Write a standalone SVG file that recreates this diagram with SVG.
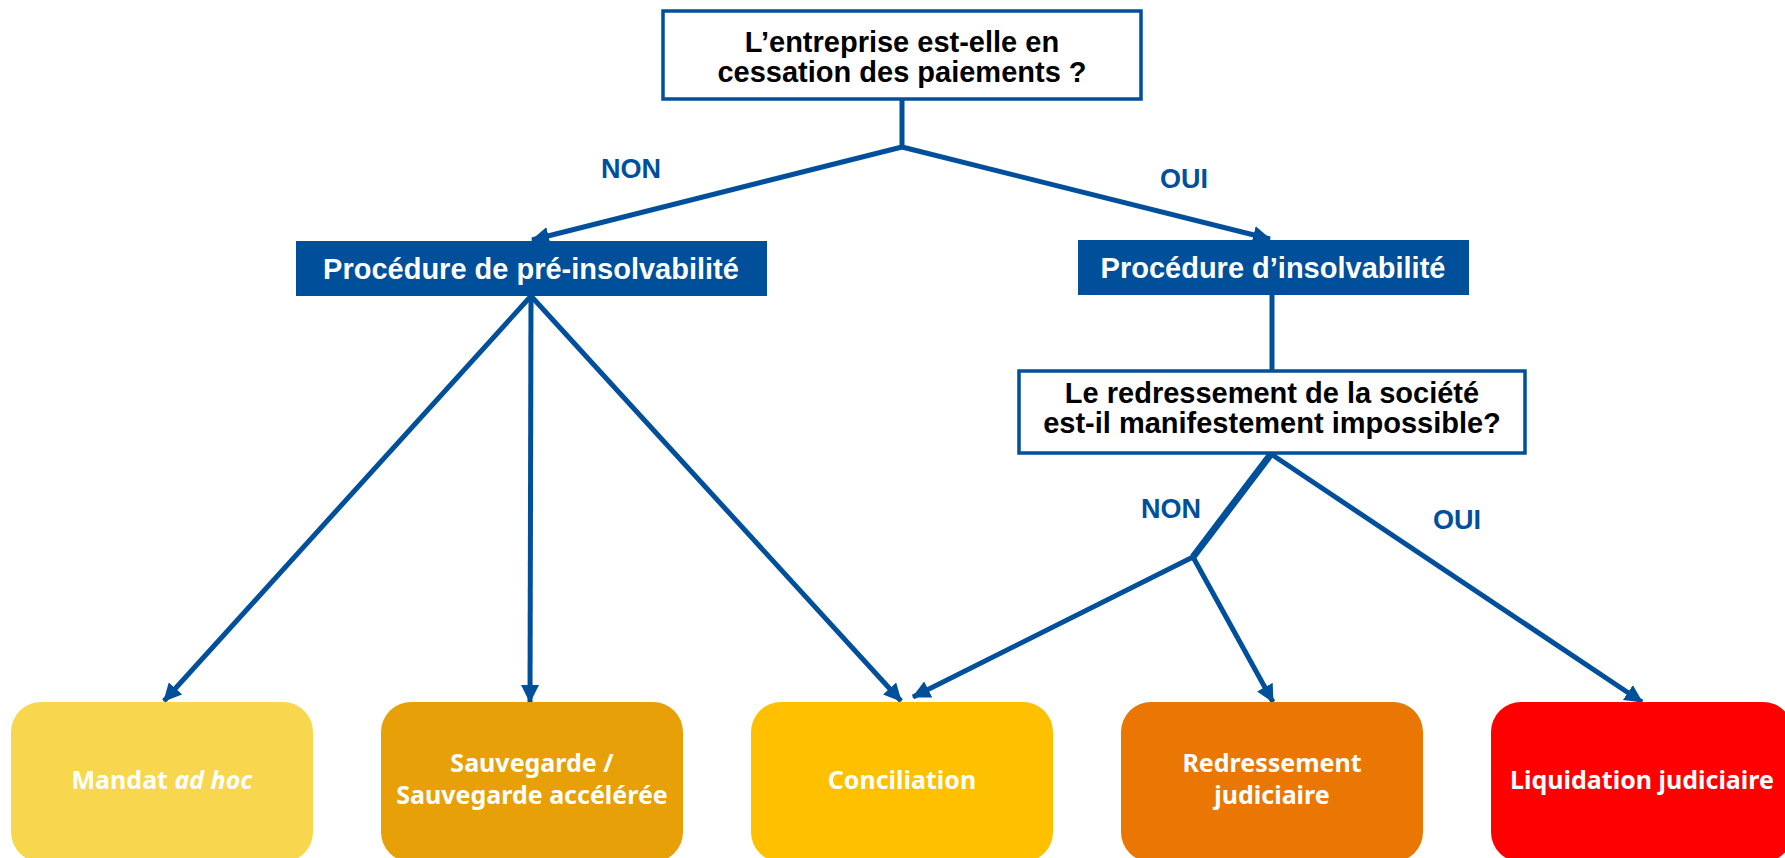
<svg xmlns="http://www.w3.org/2000/svg" width="1785" height="858" viewBox="0 0 1785 858">
<style>
.q{fill:#fff;stroke:#004F9A;stroke-width:3.5}
.qt{font-family:"Liberation Sans",Arial,sans-serif;font-weight:bold;font-size:29px;fill:#000;text-anchor:middle}
.p{fill:#004F9A}
.pt{font-family:"Liberation Sans",Arial,sans-serif;font-weight:bold;font-size:29px;fill:#fff;text-anchor:middle}
.lbl{font-family:"Liberation Sans",Arial,sans-serif;font-weight:bold;font-size:27px;fill:#004F9A;text-anchor:middle}
.c{fill:none;stroke:#004F9A;stroke-width:5}
.bt{font-family:"Noto Sans",sans-serif;font-weight:bold;font-size:25px;fill:#fff;text-anchor:middle}
</style>
<defs>
<marker id="ah" markerUnits="userSpaceOnUse" markerWidth="18" markerHeight="18" refX="17" refY="9" orient="auto">
<path d="M0,0 L18,9 L0,18 z" fill="#004F9A"/>
</marker>
</defs>
<g id="connectors">
<line class="c" x1="902" y1="99" x2="902" y2="149"/>
<line class="c" x1="902" y1="147" x2="532" y2="240" marker-end="url(#ah)"/>
<line class="c" x1="902" y1="147" x2="1270" y2="239" marker-end="url(#ah)"/>
<line class="c" x1="531" y1="296" x2="164" y2="701" marker-end="url(#ah)"/>
<line class="c" x1="531" y1="296" x2="530" y2="702" marker-end="url(#ah)"/>
<line class="c" x1="531" y1="296" x2="901" y2="701" marker-end="url(#ah)"/>
<line class="c" x1="1272" y1="295" x2="1272" y2="370"/>
<line class="c" x1="1271" y1="454" x2="1193" y2="557" style="stroke-width:7"/>
<line class="c" x1="1193" y1="557" x2="913" y2="697" marker-end="url(#ah)"/>
<line class="c" x1="1193" y1="557" x2="1273" y2="702" marker-end="url(#ah)"/>
<line class="c" x1="1271" y1="454" x2="1642" y2="702" marker-end="url(#ah)"/>
<text class="lbl" x="631" y="178">NON</text>
<text class="lbl" x="1184" y="188">OUI</text>
<text class="lbl" x="1171" y="518">NON</text>
<text class="lbl" x="1457" y="529">OUI</text>
</g>
<g id="q1">
<rect class="q" x="663" y="11" width="478" height="88"/>
<text class="qt" x="902" y="52">L’entreprise est-elle en</text>
<text class="qt" x="902" y="82">cessation des paiements ?</text>
</g>
<g id="pre">
<rect class="p" x="296" y="241" width="471" height="55"/>
<text class="pt" x="531" y="279">Procédure de pré-insolvabilité</text>
</g>
<g id="insolv">
<rect class="p" x="1078" y="240" width="391" height="55"/>
<text class="pt" x="1273" y="278">Procédure d’insolvabilité</text>
</g>
<g id="q2">
<rect class="q" x="1019" y="371" width="506" height="82"/>
<text class="qt" x="1272" y="403">Le redressement de la société</text>
<text class="qt" x="1272" y="433">est-il manifestement impossible?</text>
</g>
<g id="mandat">
<rect x="11" y="702" width="302" height="160" rx="30" fill="#F8D74E"/>
<text class="bt" x="162" y="789">Mandat <tspan font-style="italic">ad hoc</tspan></text>
</g>
<g id="sauvegarde">
<rect x="381" y="702" width="302" height="160" rx="30" fill="#E8A008"/>
<text class="bt" x="532" y="772">Sauvegarde /</text>
<text class="bt" x="532" y="804">Sauvegarde accélérée</text>
</g>
<g id="conciliation">
<rect x="751" y="702" width="302" height="160" rx="30" fill="#FFC000"/>
<text class="bt" x="902" y="789">Conciliation</text>
</g>
<g id="redressement">
<rect x="1121" y="702" width="302" height="160" rx="30" fill="#EA7703"/>
<text class="bt" x="1272" y="772">Redressement</text>
<text class="bt" x="1272" y="804">judiciaire</text>
</g>
<g id="liquidation">
<rect x="1491" y="702" width="302" height="160" rx="30" fill="#FF0000"/>
<text class="bt" x="1642" y="789">Liquidation judiciaire</text>
</g>
</svg>
